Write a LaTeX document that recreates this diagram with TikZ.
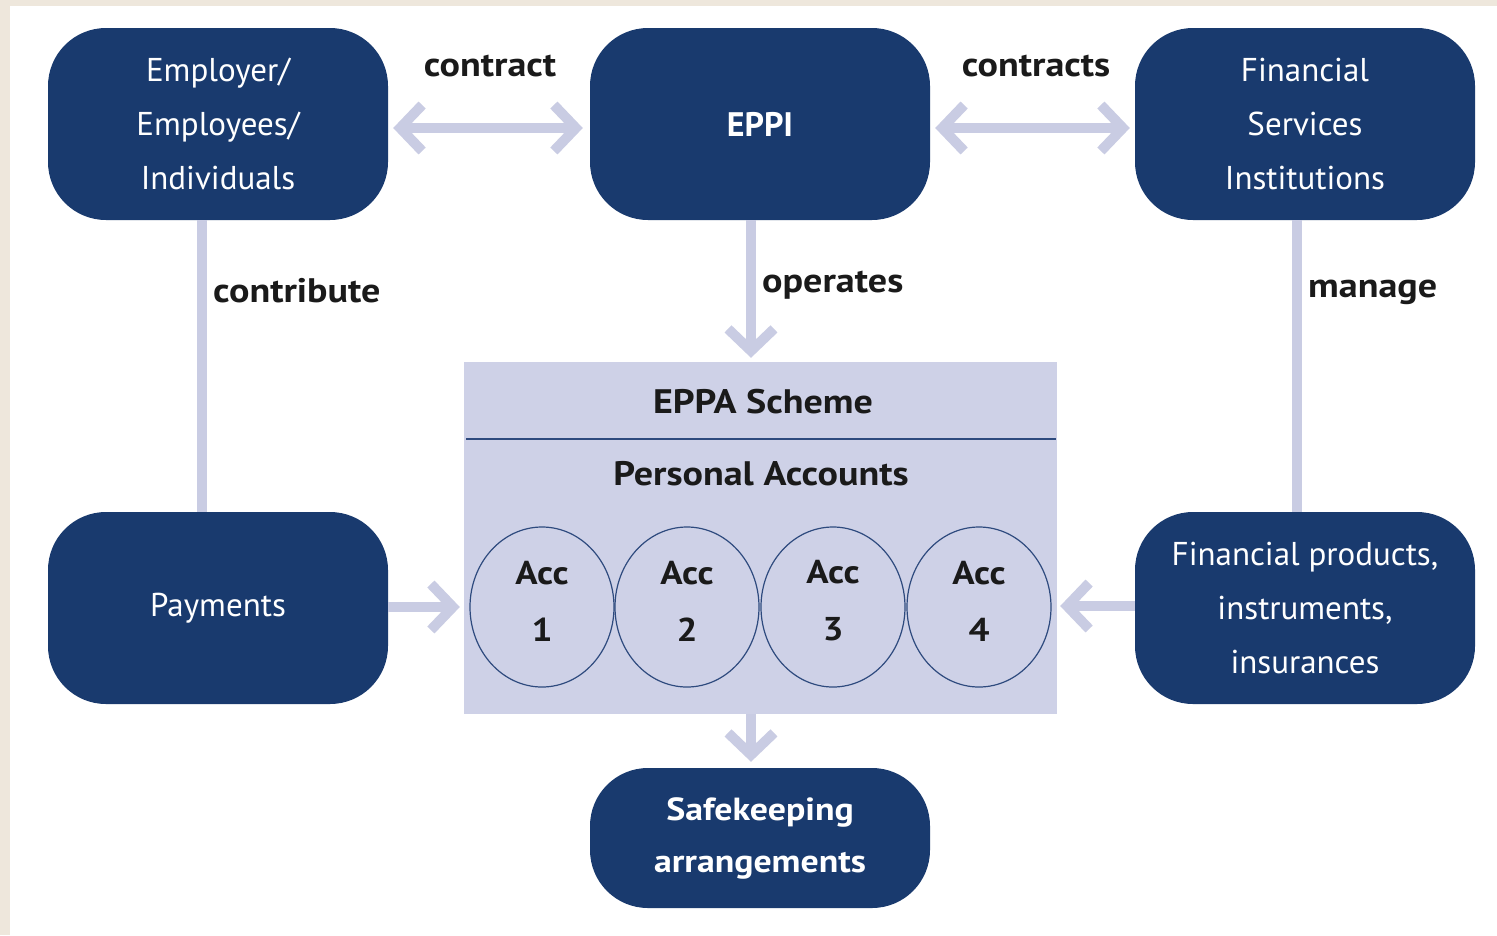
\documentclass[tikz,border=0pt]{standalone}
\usepackage{fontspec}
\setmainfont{PT Sans}
\newfontfamily\widefont{PT Sans}[FakeStretch=1.12]
\usetikzlibrary{arrows.meta,shapes.geometric}
\definecolor{navy}{HTML}{193A6E}
\definecolor{lav}{HTML}{C9CCE3}
\definecolor{schemefill}{HTML}{CED1E7}
\definecolor{beige}{HTML}{EEE7DC}
\definecolor{rim}{HTML}{2E4A7E}
\definecolor{ink}{HTML}{1A1A1A}
\begin{document}
\begin{tikzpicture}[x=1pt,y=-1pt,
  bluebox/.style={fill=navy, rounded corners=58pt, minimum width=340pt, minimum height=192pt,
    text=white, align=center, inner sep=0pt, font=\fontsize{33}{54}\selectfont},
  conn/.style={draw=lav, line width=10pt},
  arr/.style={conn, -{Straight Barb[length=22pt,width=46pt]}},
  darr/.style={conn, {Straight Barb[length=22pt,width=46pt]}-{Straight Barb[length=22pt,width=46pt]}},
  lbl/.style={font=\widefont\bfseries\fontsize{34}{38}\selectfont, text=ink, inner sep=0pt},
  acc/.style={ellipse, draw=rim, line width=1.2pt, minimum width=144pt, minimum height=160pt,
    inner sep=0pt},
  acctxt/.style={align=center, text=ink, inner sep=0pt, font=\widefont\bfseries\fontsize{33}{57}\selectfont},
  schemetxt/.style={font=\widefont\bfseries\fontsize{34}{40}\selectfont, text=ink, inner sep=0pt}
]
\useasboundingbox (0,0) rectangle (1497,935);
\fill[beige] (0,0) rectangle (1497,935);
\fill[white] (10,6) rectangle (1497,935);

% boxes
\node[bluebox] (emp) at (218,124) {Employer/\\Employees/\\Individuals};
\node[bluebox, font=\bfseries\fontsize{34}{54}\selectfont] (eppi) at (760,124) {EPPI};
\node[bluebox] (fsi) at (1305,124) {Financial\\Services\\Institutions};
\node[bluebox] (pay) at (218,608) {Payments};
\node[bluebox] (prod) at (1305,608) {Financial products,\\instruments,\\insurances};
\node[bluebox, minimum height=140pt] (safe) at (760,838) {};
\node[align=center, text=white, inner sep=0pt, font=\widefont\bfseries\fontsize{32}{52}\selectfont] (safetxt) at (760,838) {Safekeeping\\arrangements};

% scheme
\node[fill=schemefill, minimum width=593pt, minimum height=352pt, inner sep=0pt] (scheme) at (760.5,538) {};
\draw[rim, line width=2.2pt] (466,439) -- (1056,439);
\node[schemetxt] (title) at (763,402) {EPPA Scheme};
\node[schemetxt] (pers) at (761,474) {Personal Accounts};
\node[acc] (a1) at (542,607) {};
\node[acc] (a2) at (687,607) {};
\node[acc] (a3) at (833,607) {};
\node[acc] (a4) at (979,607) {};
\node[acctxt] (t1) at (542,601) {Acc\\1};
\node[acctxt] (t2) at (687,601) {Acc\\2};
\node[acctxt] (t3) at (833,601) {Acc\\3};
\node[acctxt] (t4) at (979,601) {Acc\\4};

% connectors
\draw[darr, shorten <=5pt, shorten >=7pt] (emp.east |- 0,128) -- (eppi.west |- 0,128);
\draw[darr, shorten <=5pt, shorten >=5pt] (eppi.east |- 0,128) -- (fsi.west |- 0,128);
\draw[conn] ([xshift=-16pt]emp.south) -- ([xshift=-16pt]pay.north);
\draw[conn] ([xshift=-8pt]fsi.south) -- ([xshift=-8pt]prod.north);
\draw[arr, shorten >=4pt] ([xshift=-9pt]eppi.south) -- ([xshift=-9.5pt]scheme.north);
\draw[arr, shorten >=4pt] (pay.east |- 0,607) -- (scheme.west |- 0,607);
\draw[arr, shorten >=3pt] (prod.west |- 0,606) -- (scheme.east |- 0,606);
\draw[arr, shorten >=6pt] ([xshift=-9.5pt]scheme.south) -- ([xshift=-9pt]safe.north);

% labels
\node[lbl] (lcontract) at (490,66) {contract};
\node[lbl] (lcontracts) at (1036,66) {contracts};
\node[lbl, anchor=west] (lcontrib) at (213,291) {contribute};
\node[lbl, anchor=west] (loper) at (762,285) {operates};
\node[lbl, anchor=west] (lmanage) at (1308,292) {manage};
\end{tikzpicture}
\end{document}
